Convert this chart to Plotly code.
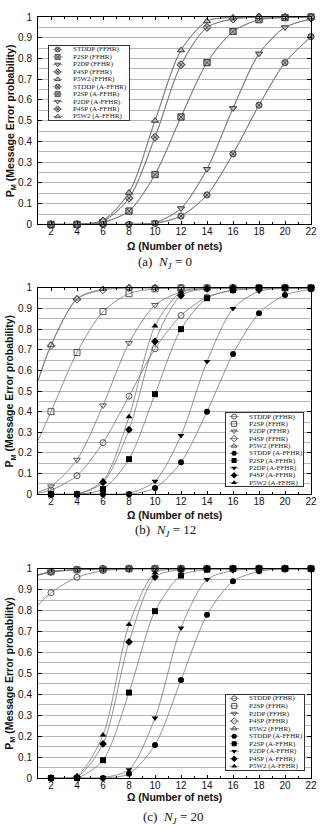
import plotly.graph_objects as go

# ---------------- data ----------------
OMEGA = [2, 4, 6, 8, 10, 12, 14, 16, 18, 20, 22]
OMEGA_EXT = [1, 2, 4, 6, 8, 10, 12, 14, 16, 18, 20, 22]
SCHEMES = ["STDDP", "P2SP", "P2DP", "P4SP", "P5W2"]

# (a) N_J = 0  (FFHR and A-FFHR coincide)
a_stddp = [0, 0, 0, 0, 0.005, 0.04, 0.142, 0.34, 0.575, 0.78, 0.905]
a_p2sp = [0, 0, 0.01, 0.064, 0.24, 0.518, 0.78, 0.93, 0.987, 0.997, 1.0]
a_p2dp = [0, 0, 0, 0, 0.008, 0.077, 0.267, 0.56, 0.823, 0.95, 0.99]
a_p4sp = [0, 0, 0.015, 0.126, 0.42, 0.77, 0.95, 0.99, 1.0, 1.0, 1.0]
a_p5w2 = [0, 0, 0.02, 0.153, 0.5, 0.84, 0.98, 0.998, 1.0, 1.0, 1.0]

# (b) N_J = 12, FFHR (first value at Omega = 1, line only)
b_ffhr_stddp = [0.005, 0.02, 0.09, 0.25, 0.475, 0.705, 0.866, 0.955, 0.988, 0.997, 1.0, 1.0]
b_ffhr_p2sp = [0.26, 0.40, 0.687, 0.885, 0.972, 0.995, 1.0, 1.0, 1.0, 1.0, 1.0, 1.0]
b_ffhr_p2dp = [0.01, 0.038, 0.167, 0.43, 0.733, 0.917, 0.98, 0.997, 1.0, 1.0, 1.0, 1.0]
b_ffhr_p4sp = [0.55, 0.72, 0.945, 0.99, 1.0, 1.0, 1.0, 1.0, 1.0, 1.0, 1.0, 1.0]
b_ffhr_p5w2 = [0.55, 0.723, 0.948, 0.995, 1.0, 1.0, 1.0, 1.0, 1.0, 1.0, 1.0, 1.0]
# (b) N_J = 12, A-FFHR
b_affhr_stddp = [0, 0, 0, 0, 0.03, 0.155, 0.40, 0.68, 0.877, 0.965, 0.993]
b_affhr_p2sp = [0, 0, 0.025, 0.17, 0.485, 0.80, 0.95, 0.99, 1.0, 1.0, 1.0]
b_affhr_p2dp = [0, 0, 0, 0.005, 0.063, 0.285, 0.643, 0.90, 0.983, 0.998, 1.0]
b_affhr_p4sp = [0, 0, 0.057, 0.313, 0.74, 0.963, 0.995, 1.0, 1.0, 1.0, 1.0]
b_affhr_p5w2 = [0, 0.002, 0.065, 0.375, 0.815, 0.98, 0.998, 1.0, 1.0, 1.0, 1.0]

# (c) N_J = 20, FFHR (first value at Omega = 1, line only)
c_ffhr_stddp = [0.825, 0.885, 0.959, 0.99, 0.998, 1.0, 1.0, 1.0, 1.0, 1.0, 1.0, 1.0]
c_ffhr_p2sp = [0.97, 0.985, 0.995, 0.998, 1.0, 1.0, 1.0, 1.0, 1.0, 1.0, 1.0, 1.0]
c_ffhr_p2dp = [0.968, 0.984, 0.995, 0.998, 1.0, 1.0, 1.0, 1.0, 1.0, 1.0, 1.0, 1.0]
c_ffhr_p4sp = [0.97, 0.985, 0.995, 0.999, 1.0, 1.0, 1.0, 1.0, 1.0, 1.0, 1.0, 1.0]
c_ffhr_p5w2 = [0.97, 0.986, 0.996, 0.999, 1.0, 1.0, 1.0, 1.0, 1.0, 1.0, 1.0, 1.0]
# (c) N_J = 20, A-FFHR
c_affhr_stddp = [0, 0, 0, 0.02, 0.158, 0.468, 0.78, 0.94, 0.987, 1.0, 1.0]
c_affhr_p2sp = [0, 0, 0.085, 0.408, 0.797, 0.967, 0.995, 1.0, 1.0, 1.0, 1.0]
c_affhr_p2dp = [0, 0, 0.002, 0.04, 0.287, 0.717, 0.948, 0.99, 1.0, 1.0, 1.0]
c_affhr_p4sp = [0, 0.005, 0.163, 0.65, 0.96, 0.995, 1.0, 1.0, 1.0, 1.0, 1.0]
c_affhr_p5w2 = [0, 0.01, 0.205, 0.733, 0.98, 0.998, 1.0, 1.0, 1.0, 1.0, 1.0]

X_TICKS = [2, 4, 6, 8, 10, 12, 14, 16, 18, 20, 22]
CAPTIONS = ["(a)  <i>N</i><sub><i>J</i></sub> = 0",
            "(b)  <i>N</i><sub><i>J</i></sub> = 12",
            "(c)  <i>N</i><sub><i>J</i></sub> = 20"]

# ---------------- styling ----------------
W, H = 328, 834
ML, MR, MT, MB = 38, 12, 11, 56


def px_x(px):
    return (px - ML) / (W - ML - MR)


def px_y(py):
    return (H - MB - py) / (H - MT - MB)


SANS = "Liberation Sans, Arial, sans-serif"
SERIF = "Liberation Serif, Times New Roman, serif"
LINE_COLOR = "#777777"
LINE_W = 0.8

SYM_OPEN = ["circle-open", "square-open", "triangle-down-open", "diamond-open", "triangle-up-open"]
SYM_FILL = ["circle", "square", "triangle-down", "diamond", "triangle-up"]
SYM_A = ["circle-x", "square-x", "triangle-down", "diamond-x", "triangle-up"]

panel_rows = [(11, 220), (284, 492), (567, 778)]
legend_boxes = [(49, 131, 40, 115), (229, 308, 410, 484), (229, 309, 694, 770)]
xtitle_y = [242, 513, 797]
caption_y = [258, 529, 818]
caption_x = [167, 168, 176]

fig = go.Figure()


def main_axes(i):
    return ("x" if i == 0 else f"x{i+1}"), ("y" if i == 0 else f"y{i+1}")


def leg_axes(i):
    return f"x{i+4}", f"y{i+4}"


def marker_style(kind, k):
    if kind == "a":
        return dict(symbol=SYM_A[k], size=6, color="#b8b8b8",
                    line=dict(color="#333333", width=0.8))
    if kind == "ffhr":
        return dict(symbol=SYM_OPEN[k], size=6, color="#444444",
                    line=dict(color="#444444", width=0.9))
    return dict(symbol=SYM_FILL[k], size=6, color="#000000",
                line=dict(color="#000000", width=0))


# panel (a)
a_series = [a_stddp, a_p2sp, a_p2dp, a_p4sp, a_p5w2]
xa, ya = main_axes(0)
for tag in ["FFHR", "A-FFHR"]:
    for k, s in enumerate(a_series):
        fig.add_trace(go.Scatter(
            x=OMEGA, y=s, mode="lines+markers", xaxis=xa, yaxis=ya,
            line=dict(color=LINE_COLOR, width=LINE_W, shape="spline", smoothing=0.8),
            marker=marker_style("a", k), cliponaxis=False, showlegend=False,
            name=f"{SCHEMES[k]} ({tag})"))

# panels (b) and (c)
bc = [
    ([b_ffhr_stddp, b_ffhr_p2sp, b_ffhr_p2dp, b_ffhr_p4sp, b_ffhr_p5w2],
     [b_affhr_stddp, b_affhr_p2sp, b_affhr_p2dp, b_affhr_p4sp, b_affhr_p5w2]),
    ([c_ffhr_stddp, c_ffhr_p2sp, c_ffhr_p2dp, c_ffhr_p4sp, c_ffhr_p5w2],
     [c_affhr_stddp, c_affhr_p2sp, c_affhr_p2dp, c_affhr_p4sp, c_affhr_p5w2]),
]
for pi, (ffhr, affhr) in enumerate(bc, start=1):
    xa, ya = main_axes(pi)
    for k, s in enumerate(ffhr):
        fig.add_trace(go.Scatter(
            x=OMEGA_EXT, y=s, mode="lines", xaxis=xa, yaxis=ya,
            line=dict(color=LINE_COLOR, width=LINE_W, shape="spline", smoothing=0.8),
            showlegend=False, hoverinfo="skip"))
        fig.add_trace(go.Scatter(
            x=OMEGA_EXT[1:], y=s[1:], mode="markers", xaxis=xa, yaxis=ya,
            marker=marker_style("ffhr", k), cliponaxis=False, showlegend=False,
            name=f"{SCHEMES[k]} (FFHR)"))
    for k, s in enumerate(affhr):
        fig.add_trace(go.Scatter(
            x=OMEGA, y=s, mode="lines+markers", xaxis=xa, yaxis=ya,
            line=dict(color=LINE_COLOR, width=LINE_W, shape="spline", smoothing=0.8),
            marker=marker_style("affhr", k), cliponaxis=False, showlegend=False,
            name=f"{SCHEMES[k]} (A-FFHR)"))

# custom legends (compact, drawn in their own small subplots)
annotations = []
for pi in range(3):
    lx, ly = leg_axes(pi)
    entries = []
    for tag in ["FFHR", "A-FFHR"]:
        for k in range(5):
            if pi == 0:
                kind = "a"
            else:
                kind = "ffhr" if tag == "FFHR" else "affhr"
            entries.append((f"{SCHEMES[k]} ({tag})", kind, k))
    for j, (label, kind, k) in enumerate(entries):
        yy = j + 1
        fig.add_trace(go.Scatter(
            x=[0.05, 0.17], y=[yy, yy], mode="lines", xaxis=lx, yaxis=ly,
            line=dict(color=LINE_COLOR, width=LINE_W), showlegend=False, hoverinfo="skip"))
        ms = marker_style(kind, k)
        ms["size"] = 5
        fig.add_trace(go.Scatter(
            x=[0.11], y=[yy], mode="markers", xaxis=lx, yaxis=ly,
            marker=ms, showlegend=False, hoverinfo="skip"))
        annotations.append(dict(
            x=0.27, y=yy, xref=lx, yref=ly, text=label, showarrow=False,
            xanchor="left", yanchor="middle",
            font=dict(family=SERIF, size=7, color="#222222")))

layout = dict(
    width=W, height=H,
    margin=dict(l=ML, r=MR, t=MT, b=MB, pad=0),
    paper_bgcolor="white", plot_bgcolor="white",
    showlegend=False,
)

for pi in range(3):
    top, bot = panel_rows[pi]
    sfx = "" if pi == 0 else str(pi + 1)
    layout["xaxis" + sfx] = dict(
        domain=[0, 1], range=[1, 22], anchor="y" + sfx,
        tickmode="array", tickvals=X_TICKS,
        ticks="inside", ticklen=3, tickwidth=0.8, tickcolor="#000",
        minor=dict(dtick=1, tick0=0, ticks="inside", ticklen=2, tickcolor="#000", showgrid=False),
        showline=True, linecolor="#000", linewidth=1, mirror="allticks",
        showgrid=False, zeroline=False, ticklabelstandoff=-2,
        tickfont=dict(family=SANS, size=10, color="#111"),
    )
    layout["yaxis" + sfx] = dict(
        domain=[px_y(bot), px_y(top)], range=[0, 1], anchor="x" + sfx,
        dtick=0.1, tick0=0,
        ticks="inside", ticklen=4, tickwidth=0.8, tickcolor="#000",
        showline=True, linecolor="#000", linewidth=1, mirror="allticks",
        showgrid=True, gridcolor="#b5b5b5", gridwidth=0.8,
        minor=dict(dtick=0.05, tick0=0, showgrid=True, gridcolor="#b5b5b5", gridwidth=0.8, ticks=""),
        zeroline=False, ticklabelstandoff=3,
        tickfont=dict(family=SANS, size=10, color="#111"),
    )
    # axis titles & caption
    annotations.append(dict(
        x=px_x(10), y=px_y((top + bot) / 2), xref="paper", yref="paper",
        text="<b>P<sub>M</sub> (Message Error probability)</b>", textangle=-90,
        showarrow=False, xanchor="center", yanchor="middle",
        font=dict(family=SANS, size=10.5, color="#111")))
    annotations.append(dict(
        x=px_x(177), y=px_y(xtitle_y[pi]), xref="paper", yref="paper",
        text="<b>\u03a9 (Number of nets)</b>", showarrow=False,
        xanchor="center", yanchor="middle",
        font=dict(family=SANS, size=10.5, color="#111")))
    annotations.append(dict(
        x=px_x(caption_x[pi]), y=px_y(caption_y[pi]), xref="paper", yref="paper",
        text=CAPTIONS[pi], showarrow=False, xanchor="center", yanchor="middle",
        font=dict(family=SERIF, size=13, color="#111")))

    # legend axes
    l, r, t, b = legend_boxes[pi]
    n = pi + 4
    layout[f"xaxis{n}"] = dict(
        domain=[px_x(l), px_x(r)], range=[0, 1], anchor=f"y{n}",
        showline=True, mirror=True, linecolor="#333", linewidth=0.8,
        showgrid=False, zeroline=False, showticklabels=False, ticks="", fixedrange=True)
    layout[f"yaxis{n}"] = dict(
        domain=[px_y(b), px_y(t)], range=[10.5, 0.5], anchor=f"x{n}",
        showline=True, mirror=True, linecolor="#333", linewidth=0.8,
        showgrid=False, zeroline=False, showticklabels=False, ticks="", fixedrange=True)

layout["annotations"] = annotations
fig.update_layout(**layout)
fig.write_html("out.html")
